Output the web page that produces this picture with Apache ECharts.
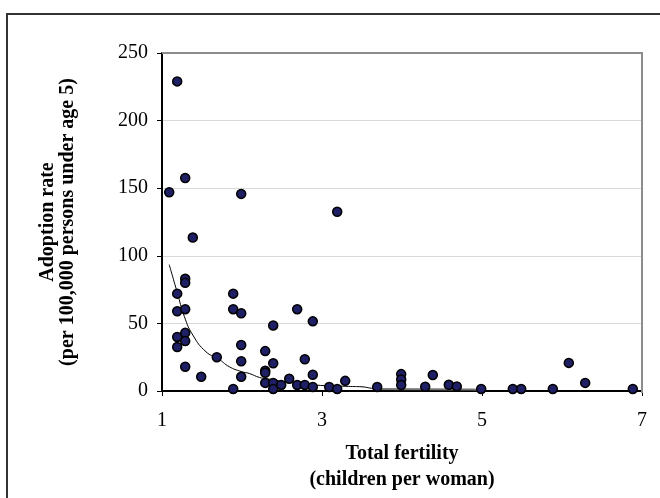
<!DOCTYPE html>
<html>
<head>
<meta charset="utf-8">
<script src="https://cdn.jsdelivr.net/npm/echarts@6/dist/echarts.min.js"></script>
<style>
  html, body { margin: 0; padding: 0; background: #fff; }
  #chart { width: 660px; height: 498px; }
</style>
</head>
<body>
<div id="chart"></div>
<script>
// total fertility (children per woman) for each country
const fertility = [
  1.19, 1.29, 1.09, 1.99, 3.19, 1.385, 1.29, 1.29, 1.19, 1.89,
  1.19, 1.29, 1.89, 1.99, 2.69, 2.885, 2.39, 1.19, 1.29, 1.29,
  1.19, 1.99, 2.29, 1.685, 1.99, 2.785, 2.39, 1.29, 2.29, 2.29,
  1.49, 1.99, 2.885, 2.29, 2.39, 2.59, 2.49, 2.69, 2.785, 2.885,
  3.09, 3.19, 3.29, 3.69, 1.89, 2.39, 3.99, 3.99, 3.99, 4.29,
  4.385, 4.585, 4.685, 4.99, 5.385, 5.49, 5.885, 6.085, 6.29, 6.885
];
// adoption rate (per 100,000 persons under age 5)
const adoption = [
  229, 157.6, 147, 145.8, 132.6, 113.5, 83, 80, 72, 72,
  59, 60.5, 60.5, 57.5, 60.5, 51.5, 48.5, 40, 43, 37,
  32.5, 34, 29.5, 25, 22, 23.5, 20.5, 18, 15, 13.5,
  10.5, 10.5, 12, 6, 6, 9, 4.5, 4.5, 4.5, 3,
  3, 1.5, 7.5, 3, 1.5, 1.5, 12.5, 8.5, 4.4, 3.2,
  11.8, 4.6, 3.4, 1.5, 1.5, 1.5, 1.5, 20.8, 6, 1.5
];
// trend line
const trendX = [1.09, 1.19, 1.28, 1.385, 1.55, 1.7, 1.84, 1.99, 2.09, 2.22, 2.34, 2.58, 2.91, 3.33, 3.5, 3.62, 3.7];
const trendY = [93.5, 73, 55, 41.4, 29, 24, 18, 14.4, 13, 10, 8.8, 6.5, 4.4, 3.4, 3.1, 2, 1.4];
const flatX = [3.7, 4.9, 5.0];
const flatY = [1.4, 1.2, 0];

const xTicks = [1, 3, 5, 7];
const yTicks = [0, 50, 100, 150, 200, 250];

const points = fertility.map((f, i) => [f, adoption[i]]);
const trend = trendX.map((x, i) => [x, trendY[i]]);
const flat = flatX.map((x, i) => [x, flatY[i]]);

const serif = '"Liberation Serif", "DejaVu Serif", serif';

const chart = echarts.init(document.getElementById('chart'));

chart.setOption({
  animation: false,
  backgroundColor: '#fff',
  grid: { left: 162, right: 18, top: 53, bottom: 105, show: false },
  graphic: [
    {
      type: 'rect',
      z: -10,
      shape: { x: 7, y: 14, width: 700, height: 520 },
      style: { fill: 'none', stroke: '#333', lineWidth: 2 }
    },
    {
      type: 'polyline',
      z: 1,
      shape: { points: [[162, 53], [642, 53], [642, 393]] },
      style: { fill: 'none', stroke: '#8c8c8c', lineWidth: 2 }
    }
  ],
  xAxis: {
    type: 'value',
    min: xTicks[0],
    max: xTicks[xTicks.length - 1],
    interval: 2,
    name: 'Total fertility\n(children per woman)',
    nameLocation: 'middle',
    nameGap: 50,
    nameTextStyle: { fontFamily: serif, fontSize: 20, fontWeight: 'bold', color: '#000', lineHeight: 26 },
    axisLine: { onZero: false, lineStyle: { color: '#000', width: 2 } },
    axisTick: { show: true, length: 5, lineStyle: { color: '#000', width: 1 } },
    axisLabel: { margin: 20, fontFamily: serif, fontSize: 20, color: '#000' },
    splitLine: { show: false }
  },
  yAxis: {
    type: 'value',
    min: yTicks[0],
    max: yTicks[yTicks.length - 1],
    interval: 50,
    name: 'Adoption rate\n(per 100,000 persons under age 5)',
    nameLocation: 'middle',
    nameGap: 84,
    nameTextStyle: { fontFamily: serif, fontSize: 20, fontWeight: 'bold', color: '#000', lineHeight: 20 },
    axisLine: { show: true, lineStyle: { color: '#000', width: 2 } },
    axisTick: { show: true, length: 5, lineStyle: { color: '#000', width: 1 } },
    axisLabel: { margin: 14, fontFamily: serif, fontSize: 20, color: '#000' },
    splitLine: { show: true, lineStyle: { color: '#d9d9d9', width: 1 } }
  },
  series: [
    {
      type: 'line',
      data: trend,
      showSymbol: false,
      smooth: true,
      lineStyle: { color: '#000', width: 1 },
      z: 2
    },
    {
      type: 'line',
      data: flat,
      showSymbol: false,
      lineStyle: { color: '#777', width: 2 },
      z: 2
    },
    {
      type: 'scatter',
      data: points,
      symbol: 'circle',
      symbolSize: 9,
      itemStyle: { color: '#1f1f66', opacity: 1, borderColor: '#000', borderWidth: 1.5 },
      z: 3
    }
  ]
});
</script>
</body>
</html>
